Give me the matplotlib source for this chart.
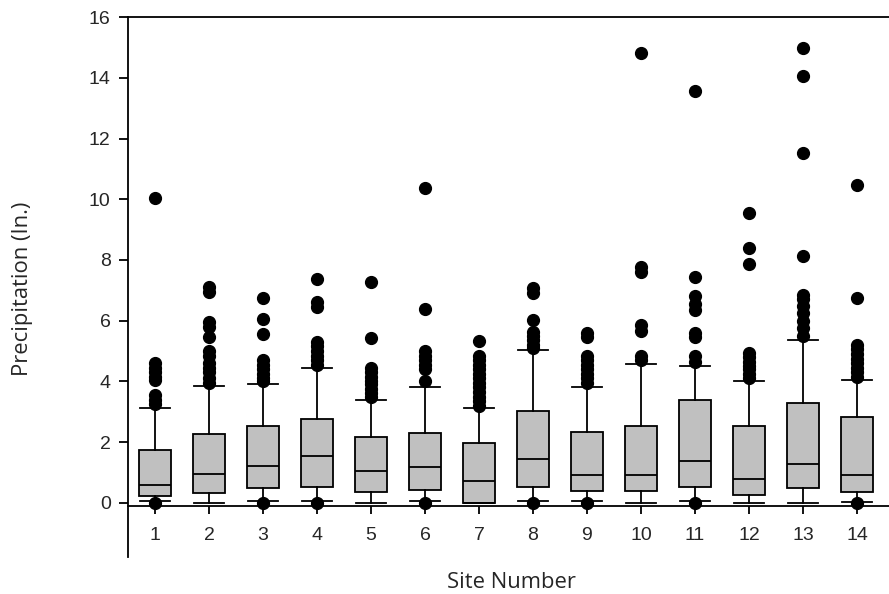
import matplotlib
matplotlib.use("Agg")
import matplotlib.pyplot as plt

# Monthly precipitation summary per site (inches)
sites = list(range(1, 15))
q1 = [0.22, 0.31, 0.47, 0.51, 0.36, 0.42, 0.00, 0.51, 0.40, 0.40, 0.51, 0.26, 0.47, 0.36]
medians = [0.58, 0.95, 1.21, 1.54, 1.04, 1.17, 0.73, 1.43, 0.90, 0.90, 1.37, 0.78, 1.28, 0.91]
q3 = [1.74, 2.26, 2.54, 2.76, 2.16, 2.31, 1.96, 3.01, 2.32, 2.54, 3.38, 2.54, 3.28, 2.81]
whisker_low = [0.05, 0.00, 0.05, 0.05, 0.00, 0.05, 0.00, 0.05, 0.05, 0.00, 0.05, 0.00, 0.00, 0.03]
whisker_high = [3.12, 3.86, 3.91, 4.44, 3.38, 3.80, 3.12, 5.03, 3.80, 4.56, 4.50, 4.02, 5.36, 4.04]
outliers = [
    [10.05, 4.6, 4.45, 4.3, 4.15, 4.05, 3.55, 3.4, 3.25, 0.0],
    [7.12, 6.95, 5.95, 5.8, 5.45, 5.0, 4.85, 4.6, 4.45, 4.3, 4.1, 3.95],
    [6.75, 6.05, 5.55, 4.7, 4.55, 4.4, 4.25, 4.1, 4.0, 0.0],
    [7.38, 6.6, 6.45, 5.3, 5.15, 5.0, 4.85, 4.7, 4.55, 0.0],
    [7.28, 5.42, 4.45, 4.3, 4.15, 4.0, 3.9, 3.75, 3.6, 3.5],
    [10.38, 6.37, 5.0, 4.85, 4.7, 4.55, 4.4, 4.0, 0.0],
    [5.33, 4.85, 4.7, 4.55, 4.4, 4.25, 4.1, 3.95, 3.8, 3.65, 3.5, 3.35, 3.2],
    [7.07, 6.9, 6.02, 5.64, 5.5, 5.35, 5.2, 5.1, 0.0],
    [5.6, 5.45, 4.85, 4.7, 4.55, 4.4, 4.25, 4.1, 3.95, 0.0],
    [14.81, 7.78, 7.6, 5.85, 5.65, 4.85, 4.7],
    [13.58, 7.45, 6.8, 6.55, 6.35, 5.6, 5.45, 4.85, 4.65, 0.0],
    [9.56, 8.38, 7.86, 4.95, 4.8, 4.65, 4.5, 4.4, 4.25, 4.1],
    [15.0, 14.06, 11.52, 8.13, 6.85, 6.7, 6.5, 6.25, 6.0, 5.75, 5.5],
    [10.47, 6.74, 5.2, 5.05, 4.9, 4.75, 4.6, 4.45, 4.3, 4.15, 0.0],
]
y_ticks = [0, 2, 4, 6, 8, 10, 12, 14, 16]

stats = []
for i in range(len(sites)):
    stats.append(dict(med=medians[i], q1=q1[i], q3=q3[i],
                      whislo=whisker_low[i], whishi=whisker_high[i],
                      fliers=outliers[i], label=str(sites[i])))

fig = plt.figure(figsize=(8.89, 5.94), dpi=100)
ax = fig.add_axes([128 / 889, 1 - 557 / 594, 1 - 128 / 889, (557 - 17.3) / 594])

line_w = 1.3
ax.bxp(stats, positions=sites, widths=0.6, patch_artist=True,
       boxprops=dict(facecolor="#c0c0c0", edgecolor="black", linewidth=line_w),
       medianprops=dict(color="black", linewidth=line_w),
       whiskerprops=dict(color="black", linewidth=line_w),
       capprops=dict(color="black", linewidth=line_w),
       capwidths=0.55,
       flierprops=dict(marker="o", markerfacecolor="black", markeredgecolor="black",
                       markersize=8.5, linestyle="none"),
       zorder=3)

ax.set_xlim(0.5, 14.593)
ax.set_ylim(-1.79, 16)

for side in ("left", "top", "bottom"):
    ax.spines[side].set_linewidth(line_w)
ax.spines["right"].set_visible(False)
ax.spines["bottom"].set_position(("data", -0.11))

ax.set_yticks(y_ticks)
ax.set_yticklabels([str(t) for t in y_ticks])
ax.set_xticks(sites)
ax.set_xticklabels([str(s) for s in sites])

ax.tick_params(axis="y", direction="out", length=6.5, width=line_w, pad=6,
               labelsize=14, labelcolor="#262626")
ax.tick_params(axis="x", direction="out", length=5.8, width=line_w, pad=9,
               labelsize=14, labelcolor="#262626")
for lab in ax.get_xticklabels() + ax.get_yticklabels():
    lab.set_family("Liberation Sans")

ax.set_xlabel("Site Number", family="Open Sans", fontsize=15.8, color="#262626",
              va="center")
ax.set_ylabel("Precipitation (In.)", family="Open Sans", fontsize=15.8, color="#262626",
              va="center")
ax.xaxis.set_label_coords((511 - 128) / 761, (557 - 582) / 539.7)
ax.yaxis.set_label_coords((23 - 128) / 761, (557 - 289) / 539.7)

fig.savefig("out.png", dpi=100)
